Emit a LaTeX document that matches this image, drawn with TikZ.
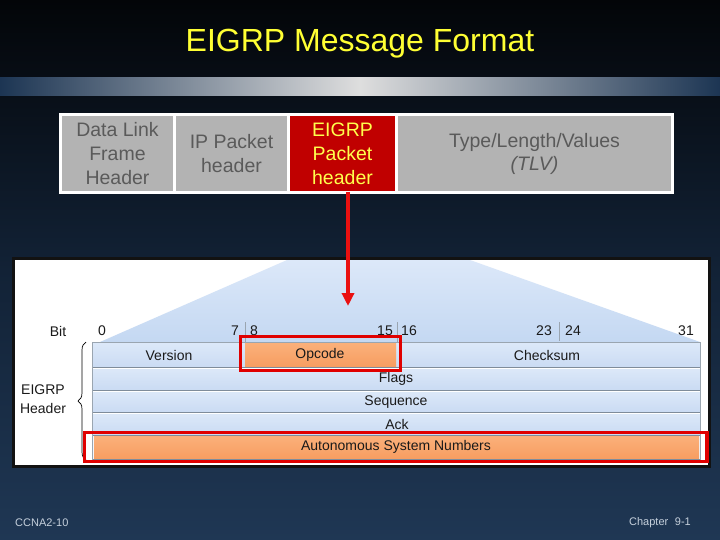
\documentclass[tikz,border=0pt]{standalone}
\usepackage{fontspec}
\setmainfont{Liberation Sans}
\usetikzlibrary{arrows.meta,decorations.pathreplacing}
\definecolor{bgtop}{HTML}{030508}
\definecolor{bgmid}{HTML}{122236}
\definecolor{bgbot}{HTML}{1F3754}
\definecolor{barmid}{HTML}{DEDEDE}
\definecolor{baredge}{HTML}{1C3553}
\definecolor{titleyel}{HTML}{FFFF33}
\definecolor{boxgrey}{HTML}{B3B3B3}
\definecolor{boxtext}{HTML}{5A5A5A}
\definecolor{egred}{HTML}{C00000}
\definecolor{egyel}{HTML}{FFFF4D}
\definecolor{arrowred}{HTML}{EA1010}
\definecolor{hlred}{HTML}{E00000}
\definecolor{panelframe}{HTML}{121212}
\definecolor{fantop}{HTML}{DCE8F9}
\definecolor{fanbot}{HTML}{C4D8F2}
\definecolor{rowtop}{HTML}{DDE9F9}
\definecolor{rowbot}{HTML}{CADBF3}
\definecolor{rowline}{HTML}{7F8C9A}
\definecolor{orangetop}{HTML}{FBB07A}
\definecolor{orangebot}{HTML}{F79E62}
\definecolor{ticklne}{HTML}{9AA5B0}
\definecolor{tabtext}{HTML}{1A1A1A}
\definecolor{foottext}{HTML}{C5D0DC}
\begin{document}
\begin{tikzpicture}[x=1pt,y=-1pt,
  hdrbox/.style={fill=boxgrey, text=boxtext, inner sep=0pt, align=center,
    minimum height=75.5pt, font=\fontsize{19.5}{24}\selectfont},
  tabtxt/.style={text=tabtext, inner sep=0pt, font=\fontsize{14}{16}\selectfont},
  rowshade/.style={top color=rowtop, bottom color=rowbot},
  orangeshade/.style={top color=orangetop, bottom color=orangebot},
  sepline/.style={rowline, line width=0.8pt},
  hlbox/.style={hlred, line width=3.5pt},
  foot/.style={text=foottext, inner sep=0pt, font=\fontsize{11}{13}\selectfont}
]
\useasboundingbox (0,0) rectangle (720,540);
% background
\shade[top color=bgtop, bottom color=bgbot, middle color=bgmid] (0,0) rectangle (720,540);
\shade[left color=baredge, right color=baredge, middle color=barmid] (0,78) rectangle (720,96);
% title
\node[font=\fontsize{32}{38}\selectfont, text=titleyel, anchor=base, inner sep=0pt] (title) at (360,52) {EIGRP Message Format};
% header strip
\fill[white] (59,113) rectangle (673.5,194.5);
\node[hdrbox, minimum width=111pt] (dl) at (117.5,153.75) {Data Link\\Frame\\Header};
\node[hdrbox, minimum width=111pt] (ip) at (231.5,153.75) {IP Packet\\header};
\node[hdrbox, minimum width=105pt, fill=egred, text=egyel] (eg) at (342.5,153.75) {EIGRP\\Packet\\header};
\node[hdrbox, minimum width=273pt, font=\fontsize{19.5}{23}\selectfont] (tlv) at (534.5,153.75) {Type/Length/Values\\\textit{(TLV)}};
% panel
\fill[panelframe] (12,257) rectangle (711,468);
\fill[white] (15,260) rectangle (708,465);
\shade[top color=fantop, bottom color=fanbot] (100,342) -- (287,260) -- (470,260) -- (700,342) -- cycle;
% table rows
\shade[rowshade] (92,342) rectangle (700,367);
\shade[rowshade] (92,367) rectangle (700,390);
\shade[rowshade] (92,390) rectangle (700,412);
\shade[rowshade] (92,412) rectangle (700,435);
\fill[white!60!rowtop] (92,435) rectangle (700,460);
\shade[orangeshade] (245,343) rectangle (396,366);
\shade[orangeshade] (94,436) rectangle (699,458);
\draw[sepline] (92,367) -- (700,367);
\draw[sepline] (92,390) -- (700,390);
\draw[sepline] (92,412) -- (700,412);
\draw[sepline] (92,435) -- (700,435);
\draw[sepline] (92,459) -- (700,459);
\draw[white, line width=0.8pt] (92,368.2) -- (700,368.2) (92,391.2) -- (700,391.2) (92,413.2) -- (700,413.2);
\draw[ticklne, line width=0.6pt] (92,342) rectangle (700,460);
\draw[ticklne, line width=0.8pt] (245,322) -- (245,343);
\draw[ticklne, line width=0.8pt] (397,322) -- (397,343);
\draw[ticklne, line width=0.8pt] (559,322) -- (559,341);
% bit labels
\node[tabtxt] (bit) at (58,331) {Bit};
\node[tabtxt] (b0) at (102,331) {0};
\node[tabtxt] (b7) at (235,331) {7};
\node[tabtxt] (b8) at (254,331) {8};
\node[tabtxt] (b15) at (385,331) {15};
\node[tabtxt] (b16) at (409,331) {16};
\node[tabtxt] (b23) at (544,331) {23};
\node[tabtxt] (b24) at (573,331) {24};
\node[tabtxt] (b31) at (686,331) {31};
% fields
\node[tabtxt] (ver) at (169,355) {Version};
\node[tabtxt] (opc) at (320,355) {Opcode};
\node[tabtxt] (chk) at (547,355) {Checksum};
\node[tabtxt] (flg) at (396,379) {Flags};
\node[tabtxt] (seq) at (396,402) {Sequence};
\node[tabtxt] (ack) at (397,424) {Ack};
\node[tabtxt] (asn) at (396,447) {Autonomous System Numbers};
% header label and brace
\node[tabtxt, align=center, font=\fontsize{14}{19}\selectfont] (hlbl) at (43,399.5) {EIGRP\\Header};
\coordinate (brb) at (86,460);
\coordinate (brt) at (86,342);
\draw[decorate, decoration={brace, amplitude=8pt}, line width=0.7pt] (brb) -- (brt);
% highlights
\draw[hlbox] (240.5,336.5) rectangle (400.5,370.5);
\draw[hlbox] (84.5,432.5) rectangle (707,461.5);
% arrow
\path (eg.south) ++(5.5,0) coordinate (astart);
\coordinate (atip) at (348,306);
\draw[arrowred, line width=4pt, -{Triangle[length=13pt,width=12pt]}] (astart) -- (atip);
% footer
\node[foot, anchor=west] (ftl) at (15,523) {CCNA2-10};
\node[foot, anchor=east] (ftr) at (691,523) {Chapter\hspace{0.6em}9-1};
\end{tikzpicture}
\end{document}
